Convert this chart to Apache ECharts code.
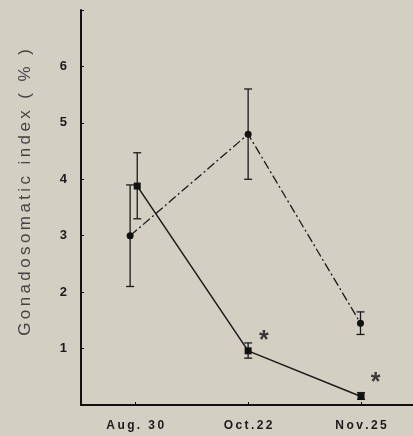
<!DOCTYPE html>
<html>
<head>
<meta charset="utf-8">
<script src="https://cdn.jsdelivr.net/npm/echarts@6/dist/echarts.min.js"></script>
<style>
  html, body { margin: 0; padding: 0; background: #d3cfc3; }
  #chart { width: 413px; height: 436px; }
</style>
</head>
<body>
<div id="chart"></div>
<script>
// sampling dates, equally spaced on the axis
var dates = ['Aug. 30', 'Oct.22', 'Nov.25'];
var yTicks = [1, 2, 3, 4, 5, 6];
var yTitle = 'Gonadosomatic index ( % )';

// dash-dot series (circles)
var dashX = [-0.045, 1, 1.995];
var dashMean = [3.0, 4.8, 1.45];
var dashLow = [2.1, 4.0, 1.25];
var dashHigh = [3.9, 5.6, 1.65];

// solid series (squares)
var solidX = [0.018, 1, 2];
var solidMean = [3.88, 0.96, 0.15];
var solidLow = [3.3, 0.83, 0.1];
var solidHigh = [4.47, 1.1, 0.22];

// significance marks
var starX = [1.14, 2.13];
var starY = [1.14, 0.38];

function pairs(xs, ys) {
    return xs.map(function (x, i) { return [x, ys[i]]; });
}
function bars(xs, lo, hi) {
    return xs.map(function (x, i) { return [x, lo[i], hi[i]]; });
}
// old typewriter-style spacing between letters
function spaced(s) {
    return s.split('').join('\u2009');
}

function errorBar(params, api) {
    var x = api.value(0);
    var top = api.coord([x, api.value(2)]);
    var bot = api.coord([x, api.value(1)]);
    var w = 4;
    var st = { stroke: '#1a1a1a', lineWidth: 1.3 };
    return {
        type: 'group',
        children: [
            { type: 'line', shape: { x1: top[0], y1: top[1], x2: bot[0], y2: bot[1] }, style: st },
            { type: 'line', shape: { x1: top[0] - w, y1: top[1], x2: top[0] + w, y2: top[1] }, style: st },
            { type: 'line', shape: { x1: bot[0] - w, y1: bot[1], x2: bot[0] + w, y2: bot[1] }, style: st }
        ]
    };
}

var option = {
    backgroundColor: '#d3cfc3',
    animation: false,
    grid: { left: 81, right: 0, top: 10, bottom: 31 },
    xAxis: {
        type: 'value',
        min: -0.48,
        max: 2.46,
        splitLine: { show: false },
        axisLine: { show: true, onZero: false, lineStyle: { color: '#111', width: 2 } },
        axisTick: { show: true, inside: true, length: 3, customValues: [0, 1, 2], lineStyle: { color: '#111' } },
        axisLabel: {
            customValues: [0, 1, 2],
            formatter: function (v) { return spaced(dates[Math.round(v)]); },
            color: '#1a1a1a',
            fontFamily: 'Liberation Sans',
            fontWeight: 'bold',
            fontSize: 12,
            margin: 15
        }
    },
    yAxis: {
        type: 'value',
        min: 0,
        max: 7,
        interval: 1,
        name: spaced(yTitle),
        nameLocation: 'middle',
        nameGap: 47,
        nameRotate: 90,
        nameTextStyle: { color: '#444', fontFamily: 'Liberation Sans', fontSize: 17, padding: [0, 0, 0, 30] },
        splitLine: { show: false },
        axisLine: { show: true, onZero: false, lineStyle: { color: '#111', width: 2 } },
        axisTick: { show: true, inside: true, length: 3, lineStyle: { color: '#111' } },
        axisLabel: {
            color: '#1a1a1a',
            fontFamily: 'Liberation Sans',
            fontWeight: 'bold',
            fontSize: 13,
            margin: 14,
            formatter: function (v) { return yTicks.indexOf(v) >= 0 ? String(v) : ''; }
        }
    },
    series: [
        {
            type: 'line',
            data: pairs(dashX, dashMean),
            symbol: 'circle',
            symbolSize: 7,
            itemStyle: { color: '#111' },
            lineStyle: { color: '#1a1a1a', width: 1.3, type: [9, 3, 2, 3] }
        },
        {
            type: 'line',
            data: pairs(solidX, solidMean),
            symbol: 'rect',
            symbolSize: 7,
            itemStyle: { color: '#111' },
            lineStyle: { color: '#1a1a1a', width: 1.5 }
        },
        {
            type: 'custom',
            renderItem: errorBar,
            data: bars(dashX, dashLow, dashHigh),
            z: 3
        },
        {
            type: 'custom',
            renderItem: errorBar,
            data: bars(solidX, solidLow, solidHigh),
            z: 3
        },
        {
            type: 'scatter',
            data: pairs(starX, starY),
            symbolSize: 0,
            label: {
                show: true,
                position: 'inside',
                formatter: '*',
                color: '#111',
                fontFamily: 'Liberation Sans',
                fontWeight: 'bold',
                fontSize: 25
            }
        }
    ]
};

var chart = echarts.init(document.getElementById('chart'));
chart.setOption(option);
</script>
</body>
</html>
